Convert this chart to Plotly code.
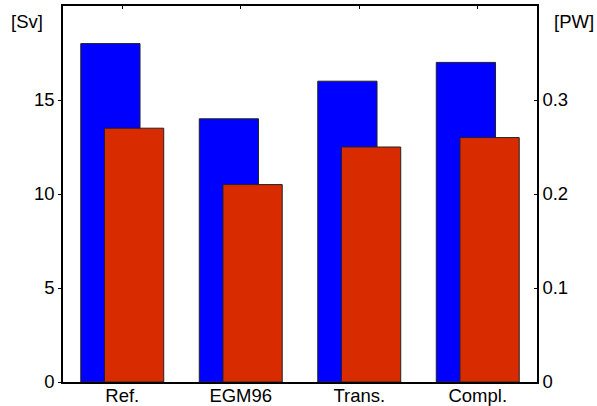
import plotly.graph_objects as go

categories = ["Ref.", "EGM96", "Trans.", "Compl."]
transport_sv = [18, 14, 16, 17]
heat_pw = [0.27, 0.21, 0.25, 0.26]
left_ticks = [0, 5, 10, 15]
right_ticks = [0, 0.1, 0.2, 0.3]
right_ticklabels = ["0", "0.1", "0.2", "0.3"]

FONT = dict(family="Liberation Sans, Arial, sans-serif", size=18.5, color="black")

fig = go.Figure()
fig.add_trace(go.Bar(
    x=categories, y=transport_sv, yaxis="y",
    width=0.5, offset=-0.35,
    marker=dict(color="#0000FF", line=dict(color="#222222", width=1)),
    showlegend=False, hoverinfo="skip",
))
fig.add_trace(go.Bar(
    x=categories, y=heat_pw, yaxis="y2",
    width=0.5, offset=-0.15,
    marker=dict(color="#D92B00", line=dict(color="#222222", width=1)),
    showlegend=False, hoverinfo="skip",
))

fig.update_layout(
    width=597, height=406,
    margin=dict(l=63, r=60, t=6, b=24, autoexpand=False),
    paper_bgcolor="white", plot_bgcolor="white",
    barmode="overlay",
    font=FONT,
    xaxis=dict(
        type="category", range=[-0.5, 3.5], automargin=False,
        showline=True, linecolor="black", linewidth=1.5, mirror="ticks",
        ticks="inside", ticklen=3, tickcolor="black",
        showgrid=False, zeroline=False, layer="below traces",
        tickfont=FONT, ticklabelstandoff=-4,
    ),
    yaxis=dict(
        range=[0, 20], tickvals=left_ticks, automargin=False,
        showline=True, linecolor="black", linewidth=1.5,
        ticks="outside", ticklen=3, tickcolor="black",
        showgrid=False, zeroline=False, tickfont=FONT,
    ),
    yaxis2=dict(
        range=[0, 0.4], tickvals=right_ticks, ticktext=right_ticklabels,
        overlaying="y", side="right", automargin=False,
        showline=True, linecolor="black", linewidth=1.5,
        ticks="inside", ticklen=3, tickcolor="black",
        showgrid=False, zeroline=False, tickfont=FONT,
    ),
    annotations=[
        dict(text="[Sv]", xref="paper", yref="paper", x=-0.076, y=0.96,
             xanchor="center", yanchor="middle", showarrow=False, font=FONT),
        dict(text="[PW]", xref="paper", yref="paper", x=1.078, y=0.96,
             xanchor="center", yanchor="middle", showarrow=False, font=FONT),
    ],
)

fig.write_html("out.html", config={"displayModeBar": False},
               post_script="document.body.style.margin='0';document.body.style.padding='0';")
